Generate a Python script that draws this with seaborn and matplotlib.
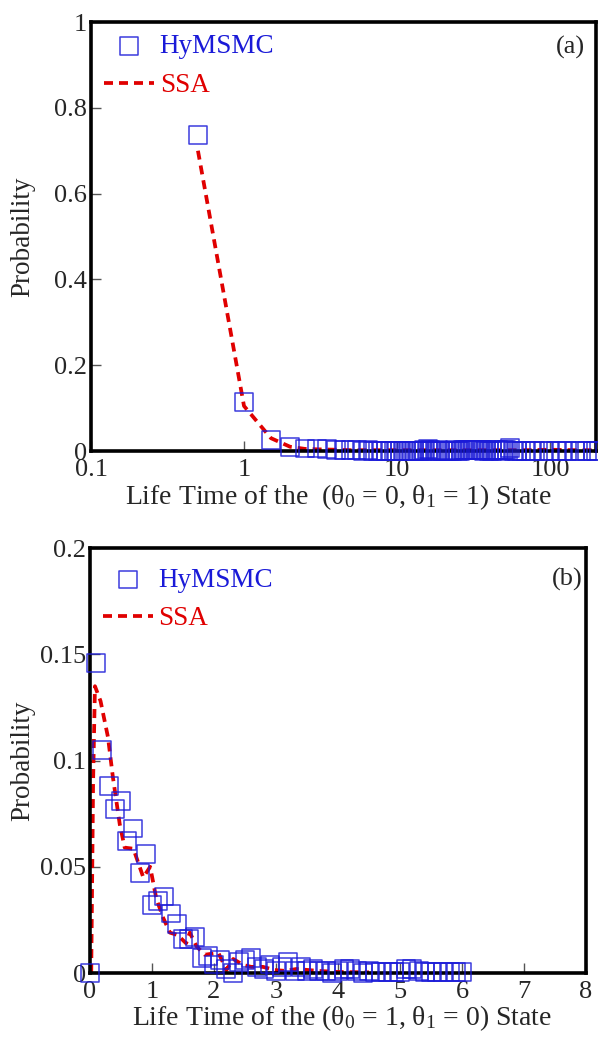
import numpy as np
import pandas as pd
import matplotlib
matplotlib.use('Agg')
import matplotlib.pyplot as plt
import seaborn as sns

# ---- data ----
# (a) lifetime of the (theta0=0, theta1=1) state, log x axis
hy_a_x = [0.5, 1, 1.5, 2, 2.5, 3, 3.5, 4, 4.5, 5, 5.5, 6, 6.5, 7, 7.5, 8, 8.5, 9,
          9.5, 10, 10.5, 11, 11.5, 12, 12.5, 13, 13.5, 14, 14.5, 15, 16, 16.5, 17,
          18, 18.5, 19, 20, 21, 22, 23, 24, 25, 26, 27, 28, 29, 30, 31, 32, 33, 34,
          35, 36, 37, 38, 40, 42, 44, 46, 48, 50, 52, 55, 58, 61, 65, 70, 75, 80,
          90, 100, 110, 120, 130, 145, 160, 175, 190, 200]
hy_a_y = [0.737, 0.114, 0.025, 0.010, 0.006, 0.006, 0.004, 0.003, 0.002, 0.002,
          0.002, 0.001, 0.002, 0.001, 0.001, 0.001, 0.001, 0.001, 0.001, 0.001,
          0.001, 0.001, 0.001, 0.001, 0.001, 0.001, 0.001, 0.001, 0.001, 0.003,
          0.005, 0.002, 0.001, 0.001, 0.002, 0.001, 0.001, 0.001, 0.001, 0.001,
          0.002, 0.001, 0.001, 0.003, 0.002, 0.003, 0.003, 0.002, 0.003, 0.003,
          0.002, 0.003, 0.002, 0.001, 0.002, 0.001, 0.001, 0.002, 0.002, 0.001,
          0.002, 0.002, 0.007, 0.001, 0.001, 0.001, 0.001, 0.001, 0.001, 0.001,
          0.001, 0.001, 0.001, 0.001, 0.001, 0.001, 0.001, 0.001, 0.001]
ssa_a_x = [0.5, 1, 1.5, 2, 2.5, 3, 4, 5, 7, 10, 15, 20, 30, 50, 70, 100, 150, 200]
ssa_a_y = [0.70, 0.105, 0.030, 0.010, 0.005, 0.004, 0.003, 0.002, 0.002, 0.002,
           0.002, 0.002, 0.002, 0.002, 0.002, 0.003, 0.002, 0.002]

# (b) lifetime of the (theta0=1, theta1=0) state
hy_b_x = [0.0, 0.1, 0.2, 0.3, 0.4, 0.5, 0.6, 0.7, 0.8, 0.9, 1.0, 1.1, 1.2, 1.3,
          1.4, 1.5, 1.6, 1.7, 1.8, 1.9, 2.0, 2.1, 2.2, 2.3, 2.4, 2.5, 2.6, 2.7,
          2.8, 2.9, 3.0, 3.1, 3.2, 3.3, 3.4, 3.5, 3.6, 3.7, 3.8, 3.9, 4.0, 4.1,
          4.2, 4.3, 4.4, 4.5, 4.6, 4.7, 4.8, 4.9, 5.0, 5.1, 5.2, 5.3, 5.4, 5.5,
          5.6, 5.7, 5.8, 5.9, 6.0]
hy_b_y = [0.0, 0.146, 0.105, 0.088, 0.077, 0.081, 0.062, 0.068, 0.047, 0.056,
          0.032, 0.034, 0.036, 0.028, 0.023, 0.016, 0.016, 0.017, 0.007, 0.008,
          0.004, 0.006, 0.002, 0.000, 0.005, 0.006, 0.007, 0.003, 0.002, 0.004,
          0.001, 0.003, 0.005, 0.001, 0.003, 0.001, 0.002, 0.001, 0.001, 0.000,
          0.001, 0.002, 0.002, 0.001, 0.000, 0.001, 0.0005, 0.0005, 0.0005, 0.0005,
          0.0005, 0.002, 0.002, 0.001, 0.0005, 0.0005, 0.0005, 0.0005, 0.0005,
          0.0005, 0.0005]
ssa_b_x = [0.02, 0.05, 0.08, 0.17, 0.29, 0.37, 0.48, 0.56, 0.70, 0.86, 0.97, 1.07,
           1.18, 1.29, 1.40, 1.48, 1.55, 1.61, 1.72, 1.85, 2.07, 2.15, 2.20, 2.31,
           2.47, 2.60, 2.79, 2.98, 3.15, 3.33, 3.68, 4.0, 4.5]
ssa_b_y = [0.0, 0.09, 0.135, 0.128, 0.111, 0.092, 0.070, 0.059, 0.0585, 0.045,
           0.050, 0.035, 0.026, 0.019, 0.018, 0.016, 0.014, 0.019, 0.0125, 0.0086,
           0.0095, 0.0047, 0.0014, 0.0066, 0.0038, 0.0029, 0.0029, 0.0014, 0.001,
           0.0019, 0.001, 0.0005, 0.0003]

labels = ['HyMSMC', 'SSA']
panel_tags = ['(a)', '(b)']

BLUE = '#1a1ad8'
RED = '#e00000'

sns.set_style('ticks')
plt.rcParams['font.family'] = ['Liberation Serif', 'DejaVu Serif']
plt.rcParams['mathtext.fontset'] = 'custom'
plt.rcParams['mathtext.rm'] = 'Liberation Serif'
plt.rcParams['mathtext.it'] = 'Liberation Serif:italic'

fig = plt.figure(figsize=(5.98, 10.39), dpi=100)
ax1 = fig.add_axes([0.1522, 0.5659, 0.8445, 0.4129])
ax2 = fig.add_axes([0.1505, 0.0635, 0.8294, 0.4090])


def draw(ax, hx, hy, sx, sy):
    sns.lineplot(x=sx, y=sy, ax=ax, color=RED, linewidth=2.7,
                 linestyle=(0, (2.4, 1.6)), label=labels[1], sort=False,
                 estimator=None, zorder=2)
    sns.scatterplot(x=hx, y=hy, ax=ax, marker='s', s=165, facecolor='none',
                    edgecolor=BLUE, linewidth=1.1, alpha=0.85, label=labels[0],
                    zorder=3, clip_on=False)


draw(ax1, hy_a_x, hy_a_y, ssa_a_x, ssa_a_y)
draw(ax2, hy_b_x, hy_b_y, ssa_b_x, ssa_b_y)

# panel (a)
ax1.set_xscale('log')
ax1.set_xlim(0.1, 200)
ax1.set_ylim(0, 1)
ax1.set_xticks([0.1, 1, 10, 100])
ax1.set_xticklabels(['0.1', '1', '10', '100'])
ax1.set_yticks([0, 0.2, 0.4, 0.6, 0.8, 1])
ax1.set_yticklabels(['0', '0.2', '0.4', '0.6', '0.8', '1'])
ax1.set_xlabel('Life Time of the  (θ$_0$ = 0, θ$_1$ = 1) State', fontsize=20)
ax1.xaxis.set_label_coords(0.49, -0.072)
ax1.yaxis.set_label_coords(-0.111, 0.5)

# panel (b)
ax2.set_xlim(0, 8)
ax2.set_ylim(0, 0.2)
ax2.set_xticks(range(9))
ax2.set_yticks([0, 0.05, 0.1, 0.15, 0.2])
ax2.set_yticklabels(['0', '0.05', '0.1', '0.15', '0.2'])
ax2.set_xlabel('Life Time of the (θ$_0$ = 1, θ$_1$ = 0) State', fontsize=20)
ax2.xaxis.set_label_coords(0.508, -0.072)
ax2.yaxis.set_label_coords(-0.111, 0.5)

for ax, tag, tx, ty, ly in zip([ax1, ax2], panel_tags, [0.978, 0.994],
                               [0.94, 0.925], [0.971, 0.954]):
    ax.minorticks_off()
    ax.set_ylabel('Probability', fontsize=19.5)
    ax.tick_params(axis='both', direction='in', length=7, width=1,
                   labelsize=19, color='#555555')
    ax.tick_params(axis='x', pad=6)
    ax.tick_params(axis='y', pad=3)
    for sp in ax.spines.values():
        sp.set_linewidth(2.6)
        sp.set_color('black')
    ax.text(tx, ty, tag, transform=ax.transAxes, ha='right', va='center',
            fontsize=19)
    h, l = ax.get_legend_handles_labels()
    order = [l.index(labels[0]), l.index(labels[1])]
    leg = ax.legend([h[i] for i in order], [l[i] for i in order],
                    loc='upper left', frameon=False, fontsize=19.5,
                    handlelength=1.85, handletextpad=0.2, labelspacing=0.5,
                    borderaxespad=0, borderpad=0, bbox_to_anchor=(0.026, ly))
    for txt, c in zip(leg.get_texts(), [BLUE, RED]):
        txt.set_color(c)

fig.savefig('out.png', dpi=100)
